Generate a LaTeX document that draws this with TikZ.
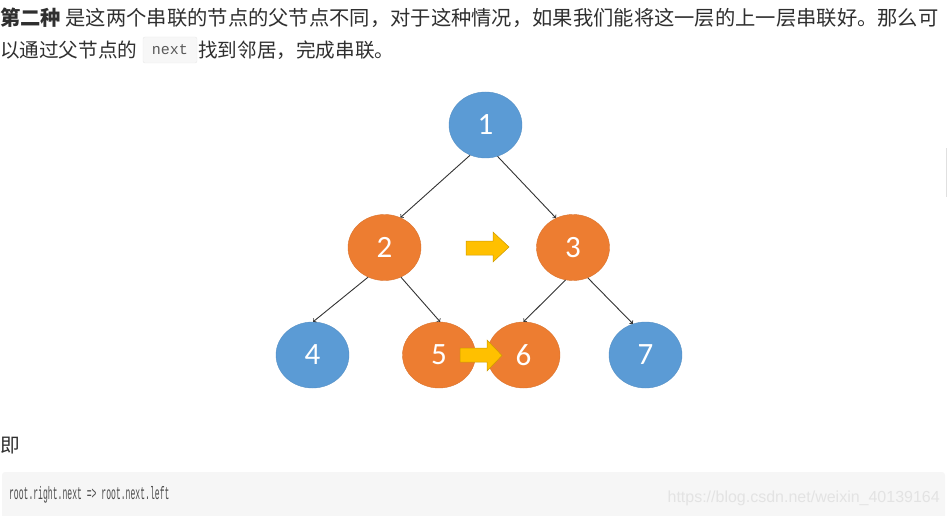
\documentclass[tikz,border=0pt]{standalone}
\usepackage{fontspec}
\setmainfont{Carlito}
\newfontfamily\cjk{Noto Sans CJK SC}
\newfontfamily\codefont{Liberation Mono}
\newfontfamily\urlfont{Liberation Sans}
\usetikzlibrary{shapes.geometric}
\definecolor{nodeblue}{HTML}{5B9BD5}
\definecolor{nodeorange}{HTML}{ED7D31}
\definecolor{nextgold}{HTML}{FFC000}
\definecolor{codebg}{HTML}{F6F6F6}
\definecolor{bodytext}{HTML}{2F2F2F}

\begin{document}
\begin{tikzpicture}[x=1pt, y=-1pt, >=to,
		treenode/.style={ellipse, minimum width=73pt, minimum height=66pt, inner sep=0pt,
			text=white, font=\fontsize{31}{33}\selectfont},
		bluenode/.style={treenode, fill=nodeblue, draw=nodeblue!92!black, line width=0.4pt},
		orangenode/.style={treenode, fill=nodeorange, draw=nodeorange!92!black, line width=0.4pt},
		child/.style={->, draw=black!80, line width=0.9pt},
		nextarrow/.style={fill=nextgold, draw=nextgold!80!black, line width=0.5pt},
		cjktext/.style={anchor=base west, inner sep=0pt, text=bodytext, font=\cjk\fontsize{19.6}{24}\selectfont}]
	\useasboundingbox (0,0) rectangle (948,516);
	% the text above the tree
	\node[cjktext, font=\cjk\fontsize{20.3}{24}\selectfont] (lineone) at (0,26) {\textbf{第二种} 是这两个串联的节点的父节点不同，对于这种情况，如果我们能将这一层的上一层串联好。那么可};
	\node[cjktext] (linetwo) at (0,58) {以通过父节点的};
	\node[fill=white!97!black, draw=black!9, rounded corners=2pt, minimum width=54pt, minimum height=26pt,
		inner sep=0pt, text=black!65, font=\codefont\fontsize{15}{17}\selectfont] (nextcode) at (170,50) {next};
	\node[cjktext] (linethree) at (198,58) {找到邻居，完成串联。};
	% the scroll bar at the right edge
	\draw[black!12, line width=1.5pt] (946.5,148) -- (946.5,197);
	% the tree
	\node[bluenode] (n1) at (485.5,125) {1};
	\node[orangenode] (n2) at (384.5,247.5) {2};
	\node[orangenode] (n3) at (573,247.5) {3};
	\node[bluenode] (n4) at (312.5,355) {4};
	\node[orangenode] (n5) at (439,355) {5};
	\node[orangenode] (n6) at (523.5,355) {6};
	\node[bluenode] (n7) at (645.5,355) {7};
	\draw[child] (n1.243) -- (n2.62);
	\draw[child] (n1.291) -- (n3.120);
	\draw[child] (n2.241) -- (n4.89);
	\draw[child] (n2.299) -- (n5.88);
	\draw[child] (n3.257) -- (n6.90);
	\draw[child] (n3.296) -- (n7.112);
	% the next pointers, 2 -> 3 and 5 -> 6
	\draw[nextarrow] (466,241) -- (493,241) -- (493,232) -- (509,247) -- (493,262) -- (493,255) -- (466,255) -- cycle;
	\draw[nextarrow] (460,348) -- (487,348) -- (487,340) -- (502,355.5) -- (487,371) -- (487,362) -- (460,362) -- cycle;
	% the text below the tree
	\node[cjktext] (lineji) at (0,452) {即};
	\fill[codebg, rounded corners=3pt] (2,472) rectangle (945,520);
	\node[anchor=base west, inner sep=0pt, text=black!70, xscale=0.45, transform shape,
		font=\codefont\fontsize{18}{20}\selectfont] (codeline) at (9,499) {root.right.next => root.next.left};
	\node[anchor=base east, inner sep=0pt, text=black!11, font=\urlfont\fontsize{16}{18}\selectfont]
		(mark) at (940,502) {https://blog.csdn.net/weixin\_40139164};
\end{tikzpicture}
\end{document}
